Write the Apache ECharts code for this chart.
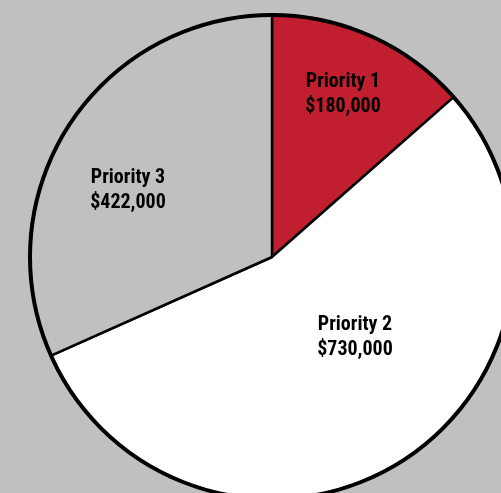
<!DOCTYPE html>
<html>
<head>
<meta charset="utf-8">
<script src="https://cdn.jsdelivr.net/npm/echarts@6/dist/echarts.min.js"></script>
<style>
html,body{margin:0;padding:0;background:#c0c0c0;}
#main{width:501px;height:493px;}
</style>
</head>
<body>
<div id="main"></div>
<script>
const categories = ['Priority 1', 'Priority 2', 'Priority 3'];
const values = [180000, 730000, 422000];
const sliceColors = ['#c11f2f', '#ffffff', '#c0c0c0'];
const labelPos = [[343, 94], [355, 337], [128, 190]];

const chart = echarts.init(document.getElementById('main'), null, {renderer: 'canvas'});
const fmt = v => '$' + v.toLocaleString('en-US');
chart.setOption({
  backgroundColor: '#c0c0c0',
  animation: false,
  series: [{
    type: 'pie',
    center: [272, 257],
    radius: 242,
    startAngle: 90,
    clockwise: true,
    silent: true,
    data: categories.map((c, i) => ({name: c, value: values[i], itemStyle: {color: sliceColors[i]}})),
    itemStyle: {borderColor: '#000', borderWidth: 2.5},
    label: {
      show: true,
      position: 'inside',
      formatter: p => p.name + '\n' + fmt(p.value),
      fontFamily: '"Roboto Condensed", sans-serif',
      fontWeight: 'bold',
      fontSize: 20,
      lineHeight: 25,
      color: '#000',
      align: 'center'
    },
    labelLine: {show: false},
    labelLayout: p => ({x: labelPos[p.dataIndex][0], y: labelPos[p.dataIndex][1], align: 'center', verticalAlign: 'middle'})
  }, {
    type: 'pie',
    center: [272, 257],
    radius: 242,
    silent: true,
    data: [{value: 1, itemStyle: {color: 'transparent', borderColor: '#000', borderWidth: 4}}],
    label: {show: false},
    labelLine: {show: false}
  }]
});
</script>
</body>
</html>
